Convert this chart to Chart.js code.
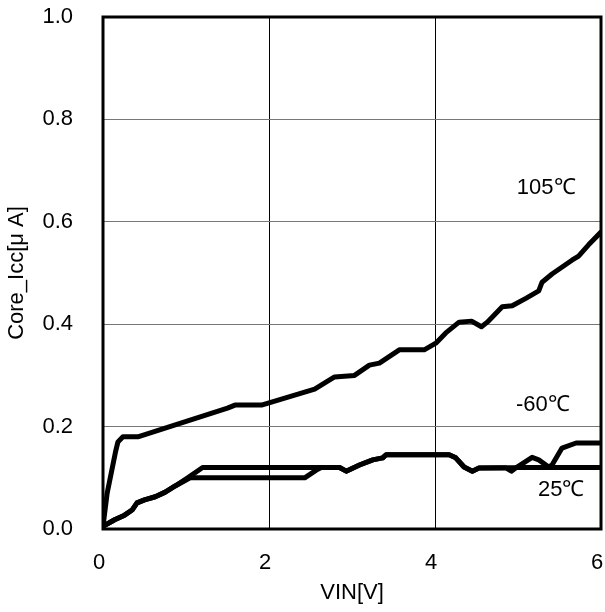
<!DOCTYPE html>
<html>
<head>
<meta charset="utf-8">
<script src="https://cdn.jsdelivr.net/npm/chart.js@4/dist/chart.umd.min.js"></script>
<style>
html,body{margin:0;padding:0;background:#fff;}
#c{display:block;}
</style>
</head>
<body>
<canvas id="c" width="605" height="612"></canvas>
<script>
// ---- data ----
const vin105 = [0, 0.05, 0.10, 0.15, 0.18, 0.24, 0.42, 1.50, 1.59, 1.91, 2.55, 2.79, 3.03, 3.21, 3.33, 3.57, 3.87, 4.01, 4.13, 4.29, 4.44, 4.56, 4.63, 4.81, 4.93, 5.10, 5.25, 5.29, 5.41, 5.65, 5.73, 5.85, 6.00];
const icc105 = [0.005, 0.07, 0.11, 0.15, 0.17, 0.18, 0.18, 0.236, 0.242, 0.242, 0.273, 0.297, 0.30, 0.32, 0.324, 0.35, 0.35, 0.363, 0.383, 0.404, 0.406, 0.395, 0.404, 0.434, 0.436, 0.451, 0.465, 0.482, 0.498, 0.525, 0.533, 0.555, 0.58];

const vinM60 = [0, 0.14, 0.26, 0.35, 0.41, 0.50, 0.63, 0.75, 0.87, 1.02, 1.20, 2.85, 2.93, 3.09, 3.25, 3.37, 3.41, 4.17, 4.25, 4.35, 4.45, 4.53, 4.98, 5.17, 5.25, 5.37, 5.41, 5.53, 5.70, 6.00];
const iccM60 = [0.005, 0.018, 0.027, 0.037, 0.051, 0.057, 0.063, 0.072, 0.084, 0.10, 0.12, 0.12, 0.113, 0.125, 0.135, 0.139, 0.145, 0.145, 0.139, 0.121, 0.113, 0.119, 0.12, 0.14, 0.135, 0.121, 0.125, 0.158, 0.168, 0.168];

const vin25 = [0, 0.14, 0.26, 0.35, 0.41, 0.50, 0.63, 0.75, 0.87, 1.05, 2.43, 2.57, 2.63, 2.85, 2.93, 3.09, 3.25, 3.37, 3.41, 4.17, 4.25, 4.35, 4.45, 4.53, 4.86, 4.92, 4.98, 6.00];
const icc25 = [0.005, 0.018, 0.027, 0.037, 0.051, 0.057, 0.063, 0.072, 0.084, 0.10, 0.10, 0.115, 0.12, 0.12, 0.113, 0.125, 0.135, 0.139, 0.145, 0.145, 0.139, 0.121, 0.113, 0.119, 0.119, 0.113, 0.12, 0.12];

const seriesNames = ['105℃', '-60℃', '25℃'];
const xTicks = [0, 2, 4, 6];
const yTicks = [0.0, 0.2, 0.4, 0.6, 0.8, 1.0];
const xTitle = 'VIN[V]';
const yTitle = 'Core_Icc[μ A]';
// label anchor positions (data units)
const labelX = [5.34, 5.30, 5.52];
const labelY = [0.666, 0.242, 0.076];

const FONT = "'Liberation Sans', Arial, sans-serif";

function pts(xs, ys) { return xs.map((x, i) => ({x: x, y: ys[i]})); }

const frame = {
  id: 'frame',
  afterDatasetsDraw(chart) {
    const {ctx, chartArea: a, scales} = chart;
    ctx.save();
    ctx.strokeStyle = '#000';
    ctx.lineWidth = 3;
    ctx.strokeRect(a.left, a.top, a.right - a.left, a.bottom - a.top);
    ctx.fillStyle = '#000';
    ctx.font = "22px " + FONT;
    ctx.textAlign = 'center';
    ctx.textBaseline = 'middle';
    seriesNames.forEach((n, i) => {
      ctx.fillText(n, scales.x.getPixelForValue(labelX[i]), scales.y.getPixelForValue(labelY[i]));
    });
    ctx.restore();
  }
};

const lineStyle = {borderColor: '#000', borderWidth: 5, pointRadius: 0, tension: 0, fill: false, borderJoinStyle: 'round', borderCapStyle: 'round'};

new Chart(document.getElementById('c'), {
  type: 'line',
  data: {
    datasets: [
      Object.assign({label: seriesNames[0], data: pts(vin105, icc105)}, lineStyle),
      Object.assign({label: seriesNames[1], data: pts(vinM60, iccM60)}, lineStyle),
      Object.assign({label: seriesNames[2], data: pts(vin25, icc25)}, lineStyle)
    ]
  },
  options: {
    responsive: false,
    animation: false,
    devicePixelRatio: 1,
    layout: {padding: {top: 17, right: 4, left: 0, bottom: 0}},
    plugins: {legend: {display: false}, tooltip: {enabled: false}},
    scales: {
      x: {
        type: 'linear', min: 0, max: 6,
        afterBuildTicks: s => { s.ticks = xTicks.map(v => ({value: v})); },
        afterFit: s => { s.height = 83; s.paddingLeft = 0; s.paddingRight = 0; },
        ticks: {font: {size: 22, family: FONT}, color: '#000', padding: 21, labelOffset: -4, maxRotation: 0, callback: v => String(v)},
        grid: {color: '#000', lineWidth: 1, drawTicks: false},
        border: {display: false},
        title: {display: true, text: xTitle, font: {size: 22, family: FONT}, color: '#000', padding: {top: 0, bottom: 6}}
      },
      y: {
        type: 'linear', min: 0, max: 1,
        afterBuildTicks: s => { s.ticks = yTicks.map(v => ({value: v})); },
        afterFit: s => { s.width = 103; s.paddingTop = 0; s.paddingBottom = 0; },
        ticks: {font: {size: 22, family: FONT}, color: '#000', padding: 30, callback: v => Number(v).toFixed(1)},
        grid: {color: '#777', lineWidth: 1, drawTicks: false},
        border: {display: false},
        title: {display: true, text: yTitle, font: {size: 22, family: FONT}, color: '#000', padding: {top: 4, bottom: 0}}
      }
    }
  },
  plugins: [frame]
});
</script>
</body>
</html>
